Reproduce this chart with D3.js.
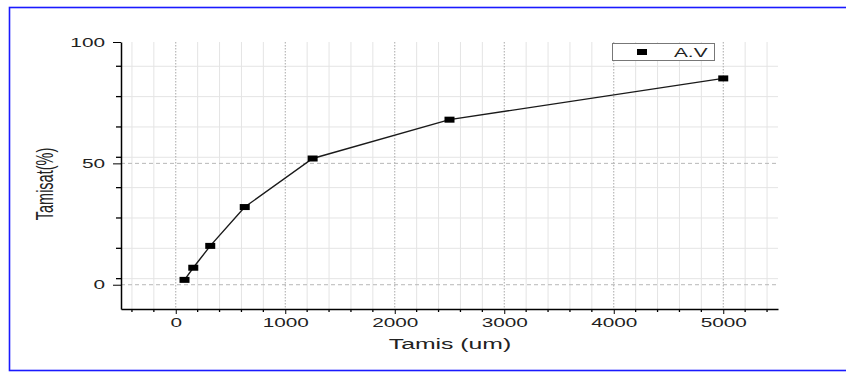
<!DOCTYPE html>
<html>
<head>
<meta charset="utf-8">
<script src="https://cdn.jsdelivr.net/npm/d3@7"></script>
<style>
  html, body { margin: 0; padding: 0; background: #fff; }
  svg { display: block; font-family: "Liberation Sans", Arial, sans-serif; }
</style>
</head>
<body>
<div id="chart"></div>
<script>
// sieve opening (um) and cumulative passing (%)
const sieves = [80, 160, 315, 630, 1250, 2500, 5000];
const passing = [2, 7, 16, 32, 52, 68, 85];

const xMajorTicks = [0, 1000, 2000, 3000, 4000, 5000];
const yMajorTicks = [0, 50, 100];
const seriesName = "A.V";
const xTitle = "Tamis (um)";
const yTitle = "Tamisat(%)";

const width = 846, height = 372;
const margin = {top: 42, left: 121, right: 68, bottom: 63};
const stretch = 1.6; // the picture is stretched horizontally

const svg = d3.select("#chart")
    .append("svg")
    .attr("width", width)
    .attr("height", height);

// blue frame
svg.append("rect")
    .attr("x", 9.5).attr("y", 7.5)
    .attr("width", 850).attr("height", 363)
    .attr("fill", "none")
    .attr("stroke", "#1a1aff")
    .attr("stroke-width", 1.6);

const x = d3.scaleLinear([-500, 5500], [margin.left, width - margin.right]);
const y = d3.scaleLinear([-10, 100], [height - margin.bottom, margin.top]);

const xMinor = d3.range(-400, 5500, 200).filter(v => v % 1000 !== 0);
const yMinor = d3.range(-10, 100, 12.5).filter(v => v % 50 !== 0 && v > -10);

const grid = svg.append("g");

// minor grid
grid.selectAll(".vmin").data(xMinor).join("line")
    .attr("x1", d => x(d)).attr("x2", d => x(d))
    .attr("y1", y(100)).attr("y2", y(-10))
    .attr("stroke", "#e4e4e4").attr("stroke-width", 1);
grid.selectAll(".hmin").data(yMinor).join("line")
    .attr("x1", x(-500)).attr("x2", x(5500))
    .attr("y1", d => y(d)).attr("y2", d => y(d))
    .attr("stroke", "#e4e4e4").attr("stroke-width", 1);

// major grid
grid.selectAll(".vmaj").data(xMajorTicks).join("line")
    .attr("x1", d => x(d)).attr("x2", d => x(d))
    .attr("y1", y(100)).attr("y2", y(-10))
    .attr("stroke", "#a8a8a8").attr("stroke-width", 1)
    .attr("stroke-dasharray", "1.5,1.5");
grid.selectAll(".hmaj").data(yMajorTicks.filter(v => v < 100)).join("line")
    .attr("x1", x(-500)).attr("x2", x(5500))
    .attr("y1", d => y(d)).attr("y2", d => y(d))
    .attr("stroke", "#b8b8b8").attr("stroke-width", 1)
    .attr("stroke-dasharray", "4,3");

// axes
const xAxis = svg.append("g")
    .attr("transform", `translate(0,${y(-10)})`)
    .call(d3.axisBottom(x).tickValues(xMajorTicks).tickFormat(d3.format("d"))
        .tickSize(5).tickPadding(3).tickSizeOuter(0))
    .call(g => g.select(".domain").attr("stroke-width", 1.5));
xAxis.selectAll("text")
    .attr("font-size", 13)
    .attr("fill", "#222")
    .attr("dy", "0.71em")
    .attr("y", 9)
    .attr("transform", `scale(${stretch},1)`);

svg.append("g")
    .attr("transform", `translate(0,${y(-10)})`)
    .selectAll("line").data(xMinor).join("line")
    .attr("x1", d => x(d)).attr("x2", d => x(d))
    .attr("y1", 0).attr("y2", 3)
    .attr("stroke", "#000").attr("stroke-width", 1.3);

const yAxis = svg.append("g")
    .attr("transform", `translate(${x(-500)},0)`)
    .call(d3.axisLeft(y).tickValues(yMajorTicks).tickSize(8).tickPadding(8).tickSizeOuter(0))
    .call(g => g.select(".domain").attr("stroke-width", 1.5));
yAxis.selectAll("text")
    .attr("font-size", 13)
    .attr("fill", "#222")
    .attr("x", -16 / stretch)
    .attr("transform", `scale(${stretch},1)`);

svg.append("g")
    .attr("transform", `translate(${x(-500)},0)`)
    .selectAll("line").data(yMinor).join("line")
    .attr("x1", -5).attr("x2", 0)
    .attr("y1", d => y(d)).attr("y2", d => y(d))
    .attr("stroke", "#000").attr("stroke-width", 1.3);

// titles
svg.append("text")
    .attr("transform", `translate(450,349) scale(${stretch},1)`)
    .attr("text-anchor", "middle")
    .attr("font-size", 15.5)
    .attr("fill", "#222")
    .text(xTitle);

svg.append("text")
    .attr("transform", `translate(53,184) scale(${stretch},1) rotate(-90)`)
    .attr("text-anchor", "middle")
    .attr("font-size", 14.5)
    .attr("fill", "#222")
    .text(yTitle);

// series
const pts = sieves.map((s, i) => ({s, p: passing[i]}));
svg.append("path")
    .datum(pts)
    .attr("fill", "none")
    .attr("stroke", "#1a1a1a")
    .attr("stroke-width", 1.4)
    .attr("d", d3.line().x(d => x(d.s)).y(d => y(d.p)));

svg.append("g").selectAll("rect").data(pts).join("rect")
    .attr("x", d => x(d.s) - 5)
    .attr("y", d => y(d.p) - 3)
    .attr("width", 10)
    .attr("height", 6)
    .attr("fill", "#000");

// legend
const legend = svg.append("g").attr("transform", "translate(612,43)");
legend.append("rect")
    .attr("x", 0.5).attr("y", 0.5)
    .attr("width", 102).attr("height", 17)
    .attr("fill", "#fff")
    .attr("stroke", "#777");
legend.append("rect")
    .attr("x", 25).attr("y", 6)
    .attr("width", 10).attr("height", 6)
    .attr("fill", "#000");
legend.append("text")
    .attr("transform", `translate(62,14) scale(${stretch},1)`)
    .attr("font-size", 13)
    .attr("fill", "#222")
    .text(seriesName);
</script>
</body>
</html>
